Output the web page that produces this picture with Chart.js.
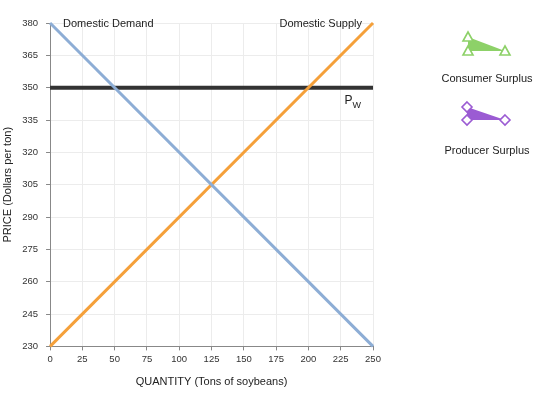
<!DOCTYPE html>
<html>
<head>
<meta charset="utf-8">
<script src="https://cdn.jsdelivr.net/npm/chart.js@4"></script>
<style>
  body { margin: 0; background: #fff; }
  #wrap { width: 560px; height: 394px; }
</style>
</head>
<body>
<div id="wrap"><canvas id="chart" width="560" height="394"></canvas></div>
<script>
const quantities = [0, 250];
const demandPrices = [380, 230];
const supplyPrices = [230, 380];
const worldPrice = 350;
const xTicks = [0, 25, 50, 75, 100, 125, 150, 175, 200, 225, 250];
const yTicks = [230, 245, 260, 275, 290, 305, 320, 335, 350, 365, 380];

const FONT = "'Liberation Sans', Arial, Helvetica, sans-serif";

const toPoints = (xs, ys) => xs.map((x, i) => ({ x, y: ys[i] }));

// line labels + legend on the right
const extras = {
  id: "extras",
  afterDatasetsDraw(chart) {
    const { ctx, scales: { x, y } } = chart;
    ctx.save();
    ctx.fillStyle = "#222";
    ctx.font = "11px " + FONT;
    ctx.textBaseline = "alphabetic";
    ctx.textAlign = "left";
    ctx.fillText("Domestic Demand", x.getPixelForValue(0) + 13, y.getPixelForValue(380) + 4);
    ctx.textAlign = "right";
    ctx.fillText("Domestic Supply", x.getPixelForValue(250) - 11, y.getPixelForValue(380) + 4);
    ctx.textAlign = "left";
    const px = x.getPixelForValue(228), py = y.getPixelForValue(worldPrice) + 16;
    ctx.font = "12px " + FONT;
    ctx.fillText("P", px, py);
    ctx.font = "9px " + FONT;
    ctx.fillText("W", px + 8, py + 4);

    // legend
    ctx.font = "11px " + FONT;
    ctx.textAlign = "center";
    ctx.fillText("Consumer Surplus", 487, 82);
    ctx.fillText("Producer Surplus", 487, 154);

    const poly = (pts, fill) => {
      ctx.beginPath();
      pts.forEach((p, i) => i ? ctx.lineTo(p[0], p[1]) : ctx.moveTo(p[0], p[1]));
      ctx.closePath();
      ctx.fillStyle = fill;
      ctx.fill();
    };
    const green = "#8dd168", purple = "#9b5bd3";
    const cs = [[468, 37], [468, 51], [505, 51]];
    poly(cs, green);
    ctx.lineWidth = 1.6;
    ctx.strokeStyle = green;
    cs.forEach(([cx, cy]) => {
      ctx.beginPath();
      ctx.moveTo(cx, cy - 5);
      ctx.lineTo(cx + 5, cy + 4);
      ctx.lineTo(cx - 5, cy + 4);
      ctx.closePath();
      ctx.fillStyle = "#fff";
      ctx.fill();
      ctx.stroke();
    });
    const ps = [[467, 107], [467, 120], [505, 120]];
    poly(ps, purple);
    ctx.strokeStyle = purple;
    ps.forEach(([cx, cy]) => {
      ctx.beginPath();
      ctx.moveTo(cx, cy - 5);
      ctx.lineTo(cx + 5, cy);
      ctx.lineTo(cx, cy + 5);
      ctx.lineTo(cx - 5, cy);
      ctx.closePath();
      ctx.fillStyle = "#fff";
      ctx.fill();
      ctx.stroke();
    });
    ctx.restore();
  }
};

new Chart(document.getElementById("chart"), {
  type: "scatter",
  data: {
    datasets: [
      {
        label: "Domestic Demand",
        data: toPoints(quantities, demandPrices),
        showLine: true,
        borderColor: "#8dadd5",
        borderWidth: 3,
        pointRadius: 0
      },
      {
        label: "Domestic Supply",
        data: toPoints(quantities, supplyPrices),
        showLine: true,
        borderColor: "#f5a03a",
        borderWidth: 3,
        pointRadius: 0
      },
      {
        label: "Pw",
        data: toPoints(quantities, quantities.map(() => worldPrice)),
        showLine: true,
        borderColor: "#333",
        borderWidth: 4,
        pointRadius: 0
      }
    ]
  },
  options: {
    responsive: false,
    animation: false,
    clip: false,
    layout: { padding: { top: 23, right: 187, left: 1, bottom: 1 } },
    plugins: { legend: { display: false }, tooltip: { enabled: false } },
    scales: {
      x: {
        type: "linear",
        min: 0, max: 250,
        afterBuildTicks: axis => { axis.ticks = xTicks.map(v => ({ value: v })); },
        ticks: { color: "#333", font: { size: 9.5, family: FONT }, padding: 3, maxRotation: 0 },
        grid: { color: "#ececec", tickColor: "#888", tickLength: 4 },
        border: { color: "#888" },
        title: { display: true, text: "QUANTITY (Tons of soybeans)", color: "#222", font: { size: 11, family: FONT }, padding: { top: 8 } }
      },
      y: {
        type: "linear",
        min: 230, max: 380,
        afterBuildTicks: axis => { axis.ticks = yTicks.map(v => ({ value: v })); },
        ticks: { color: "#333", font: { size: 9.5, family: FONT }, padding: 8 },
        grid: { color: "#ececec", tickColor: "#888", tickLength: 4 },
        border: { color: "#888" },
        title: { display: true, text: "PRICE (Dollars per ton)", color: "#222", font: { size: 11, family: FONT }, padding: { top: 0, bottom: 0 } }
      }
    }
  },
  plugins: [extras]
});
</script>
</body>
</html>
